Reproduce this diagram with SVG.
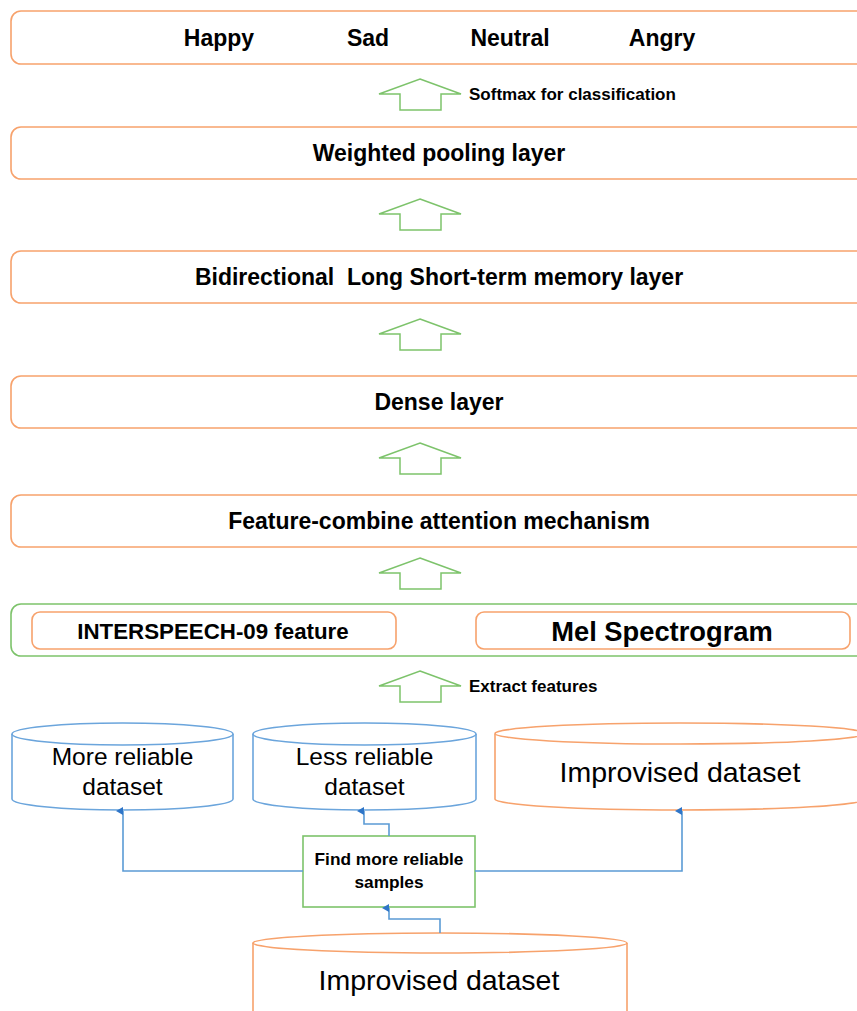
<svg xmlns="http://www.w3.org/2000/svg" width="857" height="1011" viewBox="0 0 857 1011">
<style>
.box{fill:#fff;stroke:#F7A26C;stroke-width:1.6}
.gbox{fill:#fff;stroke:#7DC36B;stroke-width:1.6}
.cylb{fill:#fff;stroke:#6BA5DC;stroke-width:1.6}
.cylo{fill:#fff;stroke:#F7A26C;stroke-width:1.6}
.up{fill:#fff;stroke:#7DC36B;stroke-width:1.5;stroke-linejoin:miter}
.t{font-family:"Liberation Sans",Arial,sans-serif;fill:#000;text-anchor:middle}
.b{font-weight:bold}
.lab{font-family:"Liberation Sans",Arial,sans-serif;font-weight:bold;fill:#000}
.con{fill:none;stroke:#5B9BD5;stroke-width:1.6;marker-end:url(#ah)}
</style>
<defs>
<marker id="ah" markerUnits="userSpaceOnUse" markerWidth="8" markerHeight="8" refX="4" refY="7" orient="auto-start-reverse" viewBox="0 0 8 8">
<path d="M0,7 L4,0 L8,7 Z" fill="#2E75C8"/>
</marker>
<path id="uparrow" d="M0,0 L41,15 L21,15 L21,31 L-20,31 L-20,15 L-41,15 Z"/>
</defs>
<rect width="857" height="1011" fill="#fff"/>

<g id="output">
<rect class="box" x="11" y="11" width="870" height="53" rx="10"/>
<text class="t b" x="219" y="46" font-size="23">Happy</text>
<text class="t b" x="368" y="46" font-size="23">Sad</text>
<text class="t b" x="510" y="46" font-size="23">Neutral</text>
<text class="t b" x="662" y="46" font-size="23">Angry</text>
</g>
<g id="pooling">
<rect class="box" x="11" y="127" width="870" height="52" rx="10"/>
<text class="t b" x="439" y="161" font-size="23">Weighted pooling layer</text>
</g>
<g id="bilstm">
<rect class="box" x="11" y="251" width="870" height="52" rx="10"/>
<text class="t b" x="439" y="285" font-size="23" xml:space="preserve">Bidirectional  Long Short-term memory layer</text>
</g>
<g id="dense">
<rect class="box" x="11" y="376" width="870" height="52" rx="10"/>
<text class="t b" x="439" y="410" font-size="23">Dense layer</text>
</g>
<g id="attention">
<rect class="box" x="11" y="495" width="870" height="52" rx="10"/>
<text class="t b" x="439" y="529" font-size="23">Feature-combine attention mechanism</text>
</g>
<g id="features">
<rect class="gbox" x="11" y="604" width="870" height="52" rx="10"/>
<g id="interspeech">
<rect class="box" x="32" y="612" width="364" height="37" rx="8"/>
<text class="t b" x="213" y="639" font-size="22.3">INTERSPEECH-09 feature</text>
</g>
<g id="mel">
<rect class="box" x="476" y="612" width="374" height="37" rx="8"/>
<text class="t b" x="662" y="641" font-size="27.3">Mel Spectrogram</text>
</g>
</g>

<g id="arrows">
<use href="#uparrow" class="up" x="420" y="79"/>
<use href="#uparrow" class="up" x="420" y="199"/>
<use href="#uparrow" class="up" x="420" y="319"/>
<use href="#uparrow" class="up" x="420" y="443"/>
<use href="#uparrow" class="up" x="420" y="558"/>
<use href="#uparrow" class="up" x="420" y="671"/>
<text class="lab" x="469" y="100" font-size="17">Softmax for classification</text>
<text class="lab" x="469" y="692" font-size="17">Extract features</text>
</g>

<g id="more-reliable">
<path class="cylb" d="M12,734 L12,799 A110.5,11 0 0 0 233,799 L233,734"/>
<ellipse class="cylb" cx="122.5" cy="734" rx="110.5" ry="11"/>
<text class="t" x="122.5" y="765" font-size="24.5">More reliable</text>
<text class="t" x="122.5" y="795" font-size="24.5">dataset</text>
</g>
<g id="less-reliable">
<path class="cylb" d="M253,734 L253,799 A111.5,11 0 0 0 476,799 L476,734"/>
<ellipse class="cylb" cx="364.5" cy="734" rx="111.5" ry="11"/>
<text class="t" x="364.5" y="765" font-size="24.5">Less reliable</text>
<text class="t" x="364.5" y="795" font-size="24.5">dataset</text>
</g>
<g id="improvised-top">
<path class="cylo" d="M495,734 L495,799 A185,11 0 0 0 865,799 L865,734"/>
<ellipse class="cylo" cx="680" cy="733.5" rx="185" ry="10.5"/>
<text class="t" x="680" y="782" font-size="28.5">Improvised dataset</text>
</g>
<g id="find">
<rect class="gbox" x="303" y="836" width="172" height="71"/>
<text class="t b" x="389" y="865" font-size="17.3">Find more reliable</text>
<text class="t b" x="389" y="888" font-size="17.3">samples</text>
</g>
<g id="improvised-bottom">
<path class="cylo" d="M253,943 L253,1020 M627,1020 L627,943"/>
<ellipse class="cylo" cx="440" cy="943" rx="187" ry="10"/>
<text class="t" x="439" y="990" font-size="28.5">Improvised dataset</text>
</g>

<g id="connectors">
<path class="con" d="M303,871 H123 V811"/>
<path class="con" d="M389,836 V824 H364 V811"/>
<path class="con" d="M475,871 H682 V811"/>
<path class="con" d="M440,933 V919 H389 V908"/>
</g>
</svg>
